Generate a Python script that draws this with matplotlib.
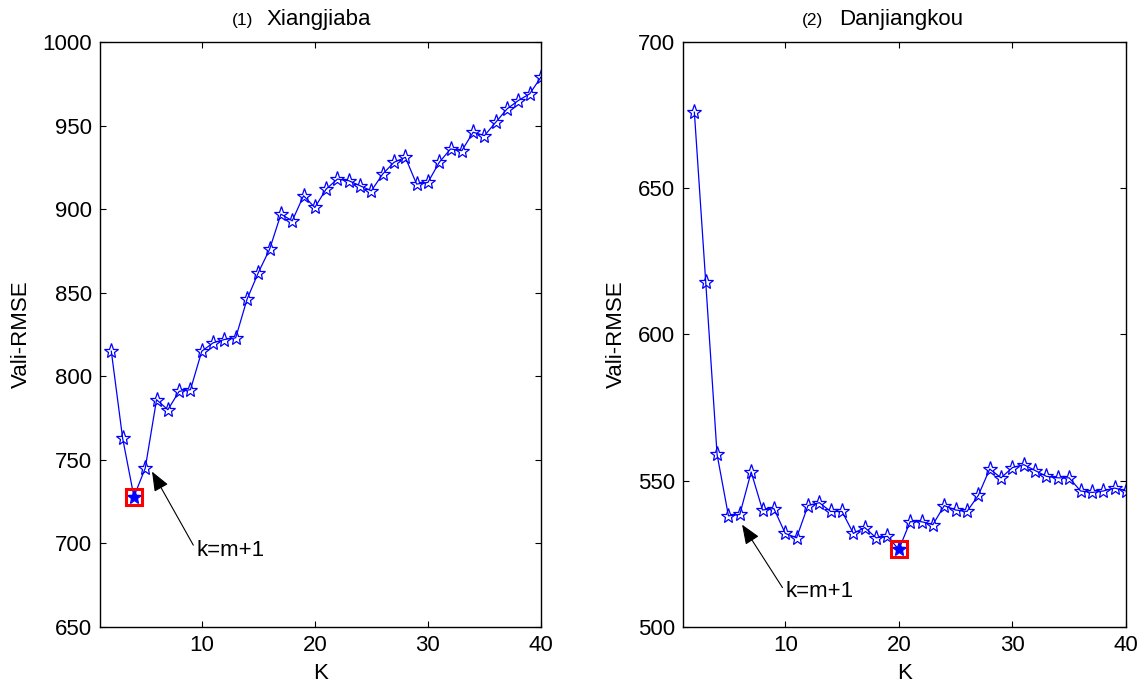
import numpy as np
import matplotlib
matplotlib.use("Agg")
from matplotlib import pyplot as plt

plt.rcParams['font.family'] = ['Liberation Sans', 'DejaVu Sans']

k_values = list(range(2, 41))

# (1) Xiangjiaba
rmse_xjb = [815, 763, 728, 745, 786, 780, 791, 792, 815, 820, 822, 823, 846, 862,
            876, 897, 893, 908, 901, 912, 918, 917, 914, 911, 921, 928, 931, 915,
            916, 928, 936, 935, 946, 944, 952, 960, 965, 969, 979]

# (2) Danjiangkou
rmse_djk = [676, 618, 559, 538, 538.5, 553, 540, 540.5, 532, 530.5, 541.5, 542.5,
            539.5, 539.5, 532, 534, 530.5, 531, 526.5, 536, 536, 535, 541.5, 540,
            539.5, 545, 554, 551, 554.5, 555.5, 553.5, 551.5, 551, 551, 546.5,
            546, 546.5, 547.5, 546.5]

titles = ["Xiangjiaba", "Danjiangkou"]
title_nums = ["(1)", "(2)"]
ylims = [(650, 1000), (500, 700)]
yticks = [np.arange(650, 1001, 50), np.arange(500, 701, 50)]
best_k = [4, 20]
# annotation: arrow head, text position (data coords)
arrow_head = [(5.6, 743), (6.2, 535)]
text_pos = [(9.5, 696), (10.0, 512)]

fig = plt.figure(figsize=(11.44, 6.85), dpi=100)
ax1 = fig.add_axes([100 / 1144, 1 - 627 / 685, 441 / 1144, 585 / 685])
ax2 = fig.add_axes([683 / 1144, 1 - 627 / 685, 443 / 1144, 585 / 685])

title_x = [(0.347, 0.378), (0.3165, 0.3526)]
fs = 16

for i, (ax, data) in enumerate(zip([ax1, ax2], [rmse_xjb, rmse_djk])):
  ax.plot(k_values, data, color='blue', linewidth=0.9, marker='*',
          markersize=11, markerfacecolor='none', markeredgecolor='blue',
          markeredgewidth=0.9)
  idx = k_values.index(best_k[i])
  ax.plot(k_values[idx], data[idx], linestyle='none', marker='s',
          markersize=11, markerfacecolor='none', markeredgecolor='red',
          markeredgewidth=2.2)
  ax.plot(k_values[idx], data[idx], linestyle='none', marker='*',
          markersize=8, color='blue')

  ax.set_xlim(1, 40)
  ax.set_ylim(*ylims[i])
  ax.set_xticks([10, 20, 30, 40])
  ax.set_yticks(yticks[i])
  ax.tick_params(direction='in', top=True, right=True, length=4,
                 width=0.8, labelsize=fs, pad=5.5)
  for sp in ax.spines.values():
    sp.set_linewidth(1.0)
  ax.set_xlabel("K", fontsize=fs, labelpad=5)
  ax.set_ylabel("Vali-RMSE", fontsize=fs, labelpad=8)

  ax.annotate("k=m+1", xy=arrow_head[i], xytext=text_pos[i],
              fontsize=fs, ha='left', va='center',
              arrowprops=dict(arrowstyle='-|>,head_length=0.5,head_width=0.2',
                              color='black', lw=0.8,
                              mutation_scale=24, shrinkA=0, shrinkB=0,
                              relpos=(0.0, 0.5)))

  ax.text(title_x[i][0], 1.0 + 14 / 585, title_nums[i], transform=ax.transAxes,
          ha='right', va='bottom', fontsize=12.5)
  ax.text(title_x[i][1], 1.0 + 12 / 585, titles[i], transform=ax.transAxes,
          ha='left', va='bottom', fontsize=fs)

fig.savefig("out.png", dpi=100)
